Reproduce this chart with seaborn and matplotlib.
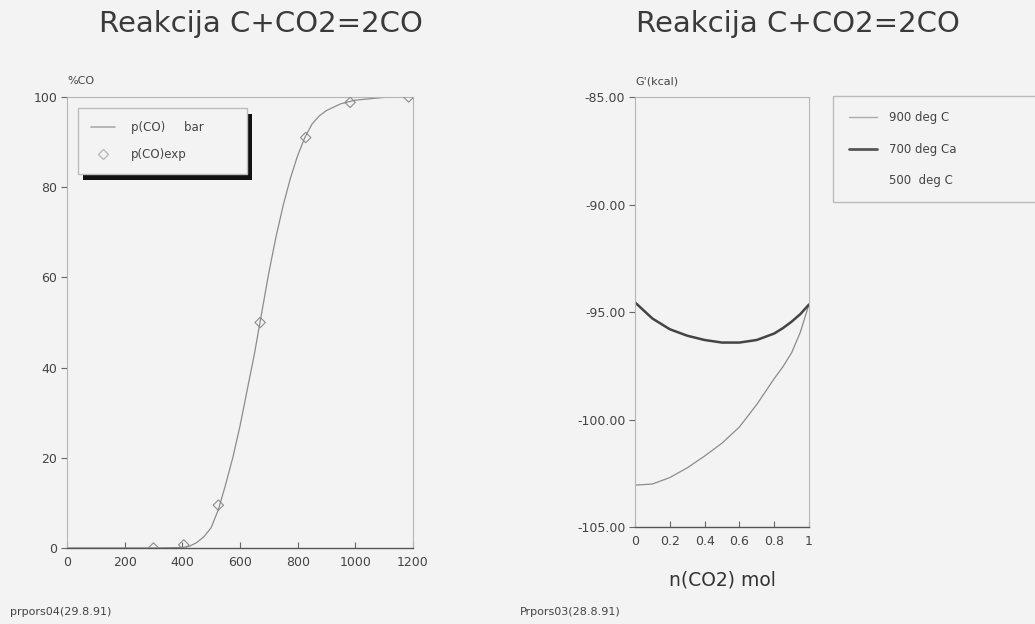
import matplotlib
matplotlib.use("Agg")
import matplotlib.pyplot as plt
from matplotlib.patches import Rectangle
from matplotlib.lines import Line2D
import matplotlib.transforms as mtransforms
import seaborn as sns

# Left chart: %CO vs temperature
temp_line = [0, 100, 200, 300, 400, 425, 450, 475, 500, 525, 550, 575, 600, 625, 650, 675,
             700, 725, 750, 775, 800, 825, 850, 875, 900, 950, 1000, 1100, 1200]
pco_line = [0, 0, 0, 0, 0.1, 0.4, 1.2, 2.5, 4.5, 8.5, 14, 20, 27, 35, 43, 52,
            61, 69, 76, 82, 87, 91, 94, 95.8, 97, 98.5, 99.3, 99.9, 100]
temp_exp = [300, 405, 525, 670, 828, 982, 1185]
pco_exp = [0, 0.7, 9.5, 50, 91, 98.8, 100]

# Right chart: G vs n(CO2)
n_co2 = [0, 0.1, 0.2, 0.3, 0.4, 0.5, 0.6, 0.7, 0.8, 0.85, 0.9, 0.95, 1.0]
g_700 = [-94.55, -95.3, -95.8, -96.1, -96.3, -96.42, -96.42, -96.3, -96.0,
         -95.75, -95.45, -95.1, -94.65]
g_900 = [-103.05, -103.0, -102.7, -102.25, -101.7, -101.1, -100.35, -99.3, -98.1,
         -97.55, -96.9, -95.95, -94.65]

bg = "#f3f3f3"
sns.set_theme(style="white")
plt.rcParams["font.family"] = ["DejaVu Sans"]
plt.rcParams["axes.unicode_minus"] = False
plt.rcParams["figure.facecolor"] = bg
plt.rcParams["axes.facecolor"] = bg

fig = plt.figure(figsize=(10.35, 6.24), dpi=100)
ax1 = fig.add_axes([0.0647, 0.1218, 0.3343, 0.7228])
ax2 = fig.add_axes([0.6135, 0.1554, 0.1681, 0.6891])

fig.text(0.252, 0.962, "Reakcija C+CO2=2CO", ha="center", va="center",
         fontsize=21, color="#3a3a3a")
fig.text(0.771, 0.962, "Reakcija C+CO2=2CO", ha="center", va="center",
         fontsize=21, color="#3a3a3a")

# ---- left panel
sns.lineplot(x=temp_line, y=pco_line, ax=ax1, color="#8c8c8c", lw=0.9)
sns.scatterplot(x=temp_exp, y=pco_exp, ax=ax1, marker="D", s=28,
                facecolor="none", edgecolor="#8c8c8c", linewidth=0.8, zorder=3)
ax1.set_xlim(0, 1200)
ax1.set_ylim(0, 100)
ax1.set_xticks(range(0, 1201, 200))
ax1.set_yticks(range(0, 101, 20))

for ax in (ax1, ax2):
    for side in ("top", "right", "left"):
        ax.spines[side].set_color("#b5b5b5")
        ax.spines[side].set_linewidth(0.8)
    ax.spines["bottom"].set_color("#555555")
    ax.spines["bottom"].set_linewidth(1.0)
    ax.tick_params(axis="y", direction="out", length=4, width=0.8, color="#666666",
                   labelsize=9, labelcolor="#444444", left=True, pad=3)
    ax.tick_params(axis="x", direction="in", length=4, width=0.8, color="#666666",
                   labelsize=9, labelcolor="#444444", bottom=True, pad=6)

ax1.text(0.0, 1.035, "%CO", transform=ax1.transAxes, fontsize=8, color="#444444",
         ha="left", va="center")

h1 = [Line2D([], [], color="#aaaaaa", lw=1.2),
      Line2D([], [], color="#bbbbbb", marker="D", ls="none", markerfacecolor="none", markersize=5)]
leg1 = ax1.legend(h1, ["p(CO)     bar", "p(CO)exp"], loc="upper left",
                  bbox_to_anchor=(0.032, 0.976, 0.488, 0.0), mode="expand",
                  borderaxespad=0, fontsize=8.5, frameon=True,
                  fancybox=False, edgecolor="#bbbbbb", facecolor=bg, framealpha=1,
                  borderpad=1.1, labelspacing=1.2, handlelength=2.0, handletextpad=1.4)
leg1.set_zorder(5)
for t in leg1.get_texts():
    t.set_color("#444444")
fig.canvas.draw()
lb = leg1.get_window_extent().transformed(ax1.transAxes.inverted())
shadow_tr = ax1.transAxes + mtransforms.ScaledTranslation(5 / 100, -6 / 100, fig.dpi_scale_trans)
ax1.add_patch(Rectangle((lb.x0, lb.y0), lb.width, lb.height, transform=shadow_tr,
                        facecolor="#111111", edgecolor="none", zorder=4, clip_on=False))

# ---- right panel
sns.lineplot(x=n_co2, y=g_900, ax=ax2, color="#8c8c8c", lw=0.9)
sns.lineplot(x=n_co2, y=g_700, ax=ax2, color="#444444", lw=1.8)
ax2.set_xlim(0, 1)
ax2.set_ylim(-105, -85)
ax2.set_xticks([0, 0.2, 0.4, 0.6, 0.8, 1])
ax2.set_xticklabels(["0", "0.2", "0.4", "0.6", "0.8", "1"])
ax2.set_yticks([-85, -90, -95, -100, -105])
ax2.set_yticklabels(["%.2f" % v for v in [-85, -90, -95, -100, -105]])
ax2.set_xlabel("n(CO2) mol", fontsize=13.5, color="#333333", labelpad=16)
ax2.set_ylabel("")
ax2.text(0.0, 1.035, "G'(kcal)", transform=ax2.transAxes, fontsize=8, color="#444444",
         ha="left", va="center")

h2 = [Line2D([], [], color="#aaaaaa", lw=1.0),
      Line2D([], [], color="#555555", lw=2.0),
      Line2D([], [], color="none", lw=1.0)]
leg2 = fig.legend(h2, ["900 deg C", "700 deg Ca", "500  deg C"], loc="upper left",
                  bbox_to_anchor=(0.805, 0.846, 0.25, 0.0), mode="expand",
                  borderaxespad=0, fontsize=8.5, frameon=True, fancybox=False,
                  edgecolor="#bbbbbb", facecolor=bg, framealpha=1, borderpad=1.3,
                  labelspacing=1.55, handlelength=2.4, handletextpad=1.0)
for t in leg2.get_texts():
    t.set_color("#444444")

fig.text(0.01, 0.014, "prpors04(29.8.91)", fontsize=8, color="#444444")
fig.text(0.502, 0.014, "Prpors03(28.8.91)", fontsize=8, color="#444444")

fig.savefig("out.png", dpi=100, facecolor=bg)
